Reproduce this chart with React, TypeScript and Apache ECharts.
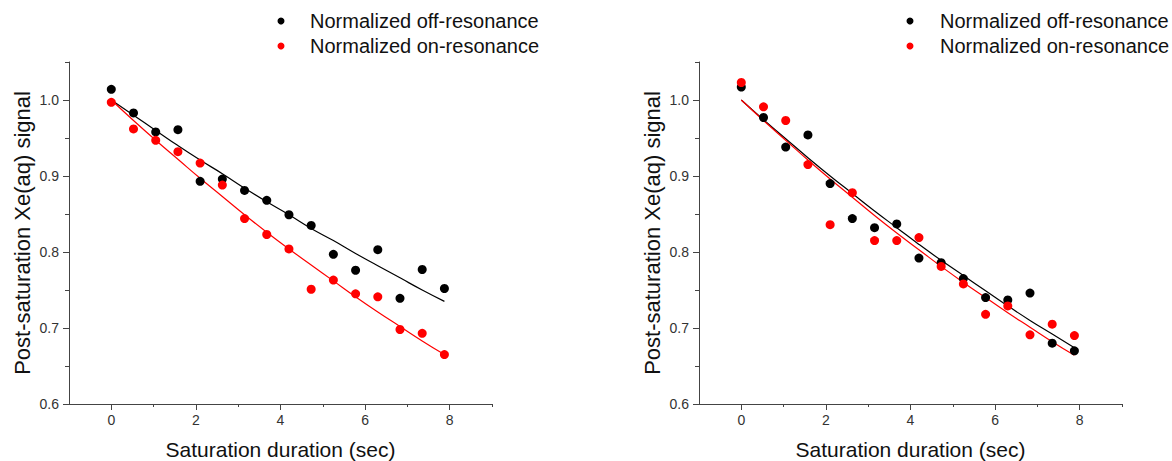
import React, { useEffect, useRef } from "react";
import * as echarts from "echarts";

const times = [0, 0.525, 1.05, 1.575, 2.1, 2.625, 3.15, 3.675, 4.2, 4.725, 5.25, 5.775, 6.3, 6.825, 7.35, 7.875];

const leftOff = [1.014, 0.983, 0.958, 0.961, 0.893, 0.896, 0.881, 0.868, 0.849, 0.835, 0.797, 0.776, 0.803, 0.739, 0.777, 0.752];
const leftOn = [0.997, 0.962, 0.947, 0.932, 0.917, 0.888, 0.844, 0.823, 0.804, 0.751, 0.763, 0.745, 0.741, 0.698, 0.693, 0.665];
const leftOffFit = [1.0, 0.98, 0.96, 0.94, 0.921, 0.903, 0.884, 0.866, 0.849, 0.831, 0.815, 0.798, 0.782, 0.766, 0.75, 0.735];
const leftOnFit = [1.0, 0.973, 0.947, 0.922, 0.897, 0.873, 0.849, 0.826, 0.804, 0.783, 0.762, 0.741, 0.721, 0.702, 0.683, 0.665];

const rightOff = [1.017, 0.977, 0.938, 0.954, 0.89, 0.844, 0.832, 0.837, 0.792, 0.786, 0.765, 0.74, 0.737, 0.746, 0.68, 0.67];
const rightOn = [1.023, 0.991, 0.973, 0.915, 0.836, 0.878, 0.815, 0.815, 0.819, 0.781, 0.758, 0.718, 0.729, 0.691, 0.705, 0.69];
const rightOffFit = [1.0, 0.974, 0.949, 0.924, 0.9, 0.877, 0.854, 0.832, 0.81, 0.789, 0.769, 0.749, 0.729, 0.71, 0.692, 0.674];
const rightOnFit = [1.0, 0.973, 0.947, 0.921, 0.896, 0.872, 0.848, 0.825, 0.803, 0.781, 0.76, 0.74, 0.72, 0.701, 0.682, 0.664];

const xLabels = [0, 2, 4, 6, 8];
const xMinor = [1, 3, 5, 7, 9];
const yLabels = [0.6, 0.7, 0.8, 0.9, 1.0];
const yMinor = [0.65, 0.75, 0.85, 0.95, 1.05];

const OFF = "Normalized off-resonance";
const ON = "Normalized on-resonance";
const FONT = "'Liberation Sans', Arial, sans-serif";
const AXIS_COLOR = "#444";

function pairs(xs: number[], ys: number[]) {
  return xs.map((x, i) => [x, ys[i]]);
}

export default function App() {
  const ref = useRef<HTMLDivElement>(null);
  useEffect(() => {
    if (!ref.current) return;
    const chart = echarts.init(ref.current, undefined, { renderer: "svg" });

    const grids = [
      { left: 69, top: 62, width: 423, height: 342, outerBoundsMode: "none", containLabel: false },
      { left: 699, top: 62, width: 423, height: 342, outerBoundsMode: "none", containLabel: false },
    ];

    const xAxes: any[] = [];
    const yAxes: any[] = [];
    [0, 1].forEach((g) => {
      xAxes.push({
        type: "value",
        gridIndex: g,
        min: -1,
        max: 9,
        name: "Saturation duration (sec)",
        nameLocation: "middle",
        nameGap: 35,
        nameTextStyle: { fontFamily: FONT, fontSize: 21, color: "#111" },
        axisLine: { show: true, onZero: false, lineStyle: { color: AXIS_COLOR, width: 1 } },
        axisTick: { show: true, customValues: xLabels, length: 6, lineStyle: { color: AXIS_COLOR } },
        axisLabel: { customValues: xLabels, fontFamily: FONT, fontSize: 14, color: "#333", margin: 9 },
        splitLine: { show: false },
      });
      xAxes.push({
        type: "value",
        gridIndex: g,
        min: -1,
        max: 9,
        position: "bottom",
        axisLine: { show: false, onZero: false },
        axisTick: { show: true, customValues: xMinor, length: 3, lineStyle: { color: AXIS_COLOR } },
        axisLabel: { show: false },
        splitLine: { show: false },
      });
      yAxes.push({
        type: "value",
        gridIndex: g,
        min: 0.6,
        max: 1.05,
        name: "Post-saturation Xe(aq) signal",
        nameLocation: "middle",
        nameGap: 36,
        nameTextStyle: { fontFamily: FONT, fontSize: 22, color: "#111" },
        axisLine: { show: true, onZero: false, lineStyle: { color: AXIS_COLOR, width: 1 } },
        axisTick: { show: true, customValues: yLabels, length: 6, lineStyle: { color: AXIS_COLOR } },
        axisLabel: {
          customValues: yLabels,
          fontFamily: FONT,
          fontSize: 14,
          color: "#333",
          margin: 10,
          formatter: (v: number) => v.toFixed(1),
        },
        splitLine: { show: false },
      });
      yAxes.push({
        type: "value",
        gridIndex: g,
        min: 0.6,
        max: 1.05,
        position: "left",
        axisLine: { show: false, onZero: false },
        axisTick: { show: true, customValues: yMinor, length: 4, lineStyle: { color: AXIS_COLOR } },
        axisLabel: { show: false },
        splitLine: { show: false },
      });
    });

    const scatter = (name: string, ys: number[], color: string, axis: number) => ({
      type: "scatter",
      name,
      xAxisIndex: axis,
      yAxisIndex: axis,
      data: pairs(times, ys),
      symbol: "circle",
      symbolSize: 9,
      itemStyle: { color, opacity: 1 },
      z: 3,
    });
    const fit = (name: string, ys: number[], color: string, axis: number) => ({
      type: "line",
      name,
      xAxisIndex: axis,
      yAxisIndex: axis,
      data: pairs(times, ys),
      showSymbol: false,
      smooth: true,
      lineStyle: { color, width: 1.2 },
      itemStyle: { color },
      z: 2,
    });

    const legend = (left: number, pad: number) => ({
      left,
      top: 11,
      padding: 0,
      orient: "vertical",
      data: [
        { name: OFF, icon: "circle" },
        { name: ON, icon: "circle" },
      ],
      itemWidth: 7,
      itemHeight: 7,
      itemGap: 5,
      textStyle: { fontFamily: FONT, fontSize: 20, color: "#111", padding: [0, 0, 0, pad] },
      selectedMode: false,
    });

    chart.setOption({
      animation: false,
      backgroundColor: "#fff",
      grid: grids,
      xAxis: xAxes,
      yAxis: yAxes,
      legend: [legend(277.5, 20.5), legend(906.5, 21.5)],
      series: [
        fit("Off fit L", leftOffFit, "#000", 0),
        fit("On fit L", leftOnFit, "#ff0000", 0),
        scatter(OFF, leftOff, "#000", 0),
        scatter(ON, leftOn, "#ff0000", 0),
        fit("Off fit R", rightOffFit, "#000", 2),
        fit("On fit R", rightOnFit, "#ff0000", 2),
        scatter(OFF, rightOff, "#000", 2),
        scatter(ON, rightOn, "#ff0000", 2),
      ],
    });
    return () => chart.dispose();
  }, []);
  return (
    <div
      ref={ref}
      style={{ position: "fixed", left: 0, top: 0, width: 1172, height: 461, background: "#fff" }}
    />
  );
}
